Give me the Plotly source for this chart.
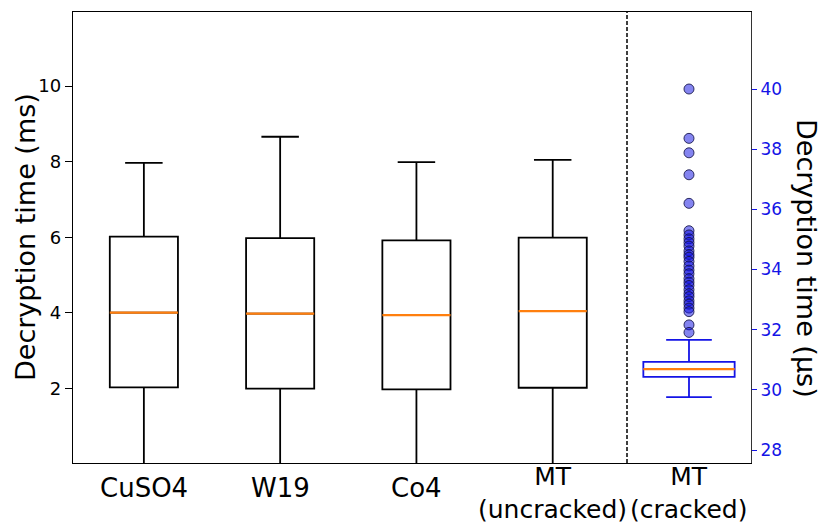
import plotly.graph_objects as go

# ---- data ----
categories = ["CuSO4", "W19", "Co4", "MT (uncracked)", "MT (cracked)"]
label_line1 = ["CuSO4", "W19", "Co4", "MT", "MT"]
label_line2 = ["", "", "", "(uncracked)", "(cracked)"]

# left axis (ms) boxes
ms_lowerfence = [0.0, 0.0, 0.0, 0.0]
ms_q1 = [2.03, 2.00, 1.98, 2.02]
ms_median = [4.01, 3.98, 3.94, 4.05]
ms_q3 = [6.02, 5.98, 5.92, 5.99]
ms_upperfence = [7.97, 8.66, 7.99, 8.05]

# right axis (us) box for MT (cracked)
us_lowerfence = [29.76]
us_q1 = [30.43]
us_median = [30.69]
us_q3 = [30.93]
us_upperfence = [31.66]
us_outliers = [40.0, 38.36, 37.88, 37.15, 36.20, 35.29, 35.15, 35.02, 34.90,
               34.78, 34.62, 34.50, 34.41, 34.27, 34.12, 33.98, 33.86, 33.70,
               33.58, 33.47, 33.33, 33.20, 33.10, 32.96, 32.85, 32.72, 32.60,
               32.16, 31.91]

left_ticks = [2, 4, 6, 8, 10]
right_ticks = [28, 30, 32, 34, 36, 38, 40]

# ---- layout geometry (pixels) ----
W, H = 827, 523
L, R, T, B = 73, 751, 12, 463
pw, ph = R - L, B - T


def paper_x(px):
    return (px - L) / pw


def paper_y(py):
    return (B - py) / ph


FONT = "DejaVu Sans"
ORANGE = "#ff7f0e"
BLUE = "#1414e6"

fig = go.Figure()

left_cats = categories[:4]
right_cats = categories[4:]

fig.add_trace(go.Box(
    x=left_cats, q1=ms_q1, median=ms_median, q3=ms_q3,
    lowerfence=ms_lowerfence, upperfence=ms_upperfence,
    width=0.5, whiskerwidth=0.55,
    line=dict(color="black", width=1.8), fillcolor="white",
    boxpoints=False, showlegend=False, xaxis="x", yaxis="y"))

fig.add_trace(go.Box(
    x=left_cats, q1=ms_median, median=ms_median, q3=ms_median,
    lowerfence=ms_median, upperfence=ms_median,
    width=0.5, whiskerwidth=0,
    line=dict(color=ORANGE, width=2.2), fillcolor="rgba(0,0,0,0)",
    boxpoints=False, showlegend=False, xaxis="x", yaxis="y"))

fig.add_trace(go.Box(
    x=right_cats, q1=us_q1, median=us_median, q3=us_q3,
    lowerfence=us_lowerfence, upperfence=us_upperfence,
    width=0.67, whiskerwidth=0.5,
    line=dict(color=BLUE, width=1.8), fillcolor="white",
    boxpoints=False, showlegend=False, xaxis="x", yaxis="y2"))

fig.add_trace(go.Box(
    x=right_cats, q1=us_median, median=us_median, q3=us_median,
    lowerfence=us_median, upperfence=us_median,
    width=0.67, whiskerwidth=0,
    line=dict(color=ORANGE, width=2.2), fillcolor="rgba(0,0,0,0)",
    boxpoints=False, showlegend=False, xaxis="x", yaxis="y2"))

fig.add_trace(go.Scatter(
    x=[right_cats[0]] * len(us_outliers), y=us_outliers, mode="markers",
    marker=dict(size=10, color="rgba(10,10,225,0.5)",
                line=dict(color="rgba(20,20,70,0.85)", width=1)),
    showlegend=False, xaxis="x", yaxis="y2"))

annotations = []
for cat, l1, l2 in zip(categories, label_line1, label_line2):
    if l2:
        text, yc, size = l1 + "<br>" + l2, 493, 25
    else:
        text, yc, size = l1, 488, 26
    annotations.append(dict(x=cat, xref="x", y=paper_y(yc), yref="paper",
                            text=text, showarrow=False, xanchor="center",
                            yanchor="middle", align="center",
                            font=dict(family=FONT, size=size, color="black")))

annotations.append(dict(x=paper_x(25.5), xref="paper", y=paper_y(237.5),
                        yref="paper", text="Decryption time (ms)",
                        textangle=-90, showarrow=False, xanchor="center",
                        yanchor="middle",
                        font=dict(family=FONT, size=27, color="black")))
annotations.append(dict(x=paper_x(807), xref="paper", y=paper_y(258),
                        yref="paper", text="Decryption time (μs)",
                        textangle=90, showarrow=False, xanchor="center",
                        yanchor="middle",
                        font=dict(family=FONT, size=27, color="black")))

fig.update_layout(
    width=W, height=H,
    margin=dict(l=L, r=W - R, t=T, b=H - B, pad=0),
    paper_bgcolor="white", plot_bgcolor="white",
    boxmode="overlay",
    font=dict(family=FONT, color="black"),
    xaxis=dict(type="category", categoryorder="array",
               categoryarray=categories, range=[-0.52, 4.455],
               showticklabels=False, ticks="", showgrid=False,
               zeroline=False, showline=True, linecolor="black",
               linewidth=1.3, mirror=True),
    yaxis=dict(range=[0.03, 11.96], tickvals=left_ticks,
               ticks="outside", ticklen=7, tickwidth=1.3, tickcolor="black",
               tickfont=dict(family=FONT, size=18, color="black"),
               showgrid=False, zeroline=False, showline=True,
               linecolor="black", linewidth=1.3, mirror=True),
    yaxis2=dict(range=[27.57, 42.56], tickvals=right_ticks,
                overlaying="y", side="right",
                ticks="outside", ticklen=5, tickwidth=1.3, tickcolor=BLUE,
                tickfont=dict(family=FONT, size=17, color=BLUE),
                showgrid=False, zeroline=False, showline=True,
                linecolor="#333333", linewidth=1.3),
    shapes=[dict(type="line", xref="paper", yref="paper",
                 x0=paper_x(627), x1=paper_x(627), y0=0, y1=1,
                 line=dict(color="black", width=1.5, dash="4px,2px"))],
    annotations=annotations,
)

fig.write_html("out.html")
